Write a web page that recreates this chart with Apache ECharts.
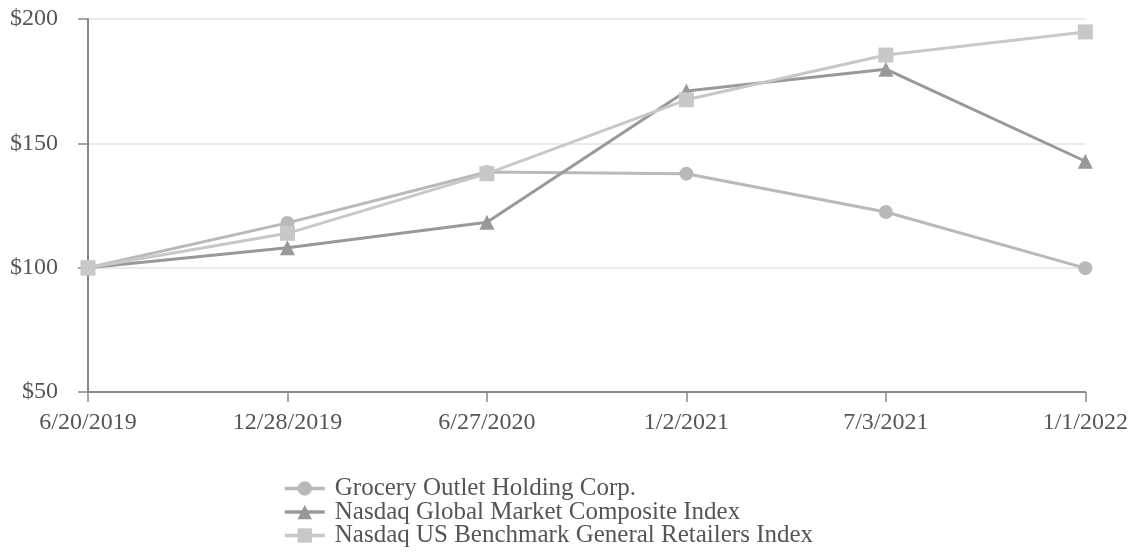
<!DOCTYPE html>
<html><head><meta charset="utf-8">
<script src="https://cdn.jsdelivr.net/npm/echarts@6/dist/echarts.min.js"></script>
<style>html,body{margin:0;padding:0;background:#fff}#c{width:1131px;height:554px}</style>
</head><body><div id="c"></div>
<script>
const categories = ['6/20/2019','12/28/2019','6/27/2020','1/2/2021','7/3/2021','1/1/2022'];
const groceryOutlet = [100, 118, 138.5, 137.8, 122.4, 99.8];
const nasdaqGlobal = [100, 108, 118.3, 171, 179.8, 142.8];
const nasdaqRetail = [100, 113.8, 137.8, 167.5, 185.5, 194.8];
const yTicks = {min: 50, max: 200, interval: 50};
const seriesNames = ['Grocery Outlet Holding Corp.','Nasdaq Global Market Composite Index','Nasdaq US Benchmark General Retailers Index'];

const font = '"Liberation Serif", "Times New Roman", serif';
const chart = echarts.init(document.getElementById('c'));
chart.setOption({
  animation: false,
  grid: {left: 88, right: 43, top: 19, bottom: 162},
  legend: {
    orient: 'vertical', left: 283, top: 476, itemGap: -1.5,
    itemWidth: 40, itemHeight: 18, padding: 0,
    lineStyle: {width: 3.5},
    textStyle: {fontFamily: font, fontSize: 25, lineHeight: 21, color: '#555', padding: [0, 0, 0, 5]},
    data: seriesNames
  },
  xAxis: {
    type: 'category', data: categories, boundaryGap: false,
    axisLine: {lineStyle: {color: '#888', width: 2}},
    axisTick: {show: true, length: 10, lineStyle: {color: '#888', width: 1.5}},
    axisLabel: {fontFamily: font, fontSize: 24, color: '#555', margin: 19, interval: 0},
    splitLine: {show: false}
  },
  yAxis: {
    type: 'value', min: yTicks.min, max: yTicks.max, interval: yTicks.interval,
    axisLine: {show: true, lineStyle: {color: '#888', width: 2}},
    axisTick: {show: true, length: 10, lineStyle: {color: '#888', width: 1.5}},
    axisLabel: {fontFamily: font, fontSize: 24, color: '#555', margin: 30, formatter: v => '$' + v},
    splitLine: {show: true, lineStyle: {color: '#e3e3e3', width: 1.5}}
  },
  series: [
    {name: seriesNames[0], type: 'line', data: groceryOutlet, symbol: 'circle', symbolSize: 14,
     lineStyle: {width: 3, color: '#b9b9b9'}, itemStyle: {color: '#b9b9b9'}},
    {name: seriesNames[1], type: 'line', data: nasdaqGlobal, symbol: 'triangle', symbolSize: 15,
     lineStyle: {width: 3, color: '#999999'}, itemStyle: {color: '#999999'}},
    {name: seriesNames[2], type: 'line', data: nasdaqRetail, symbol: 'rect', symbolSize: 15,
     lineStyle: {width: 3, color: '#c8c8c8'}, itemStyle: {color: '#c8c8c8'}}
  ]
});
</script></body></html>
